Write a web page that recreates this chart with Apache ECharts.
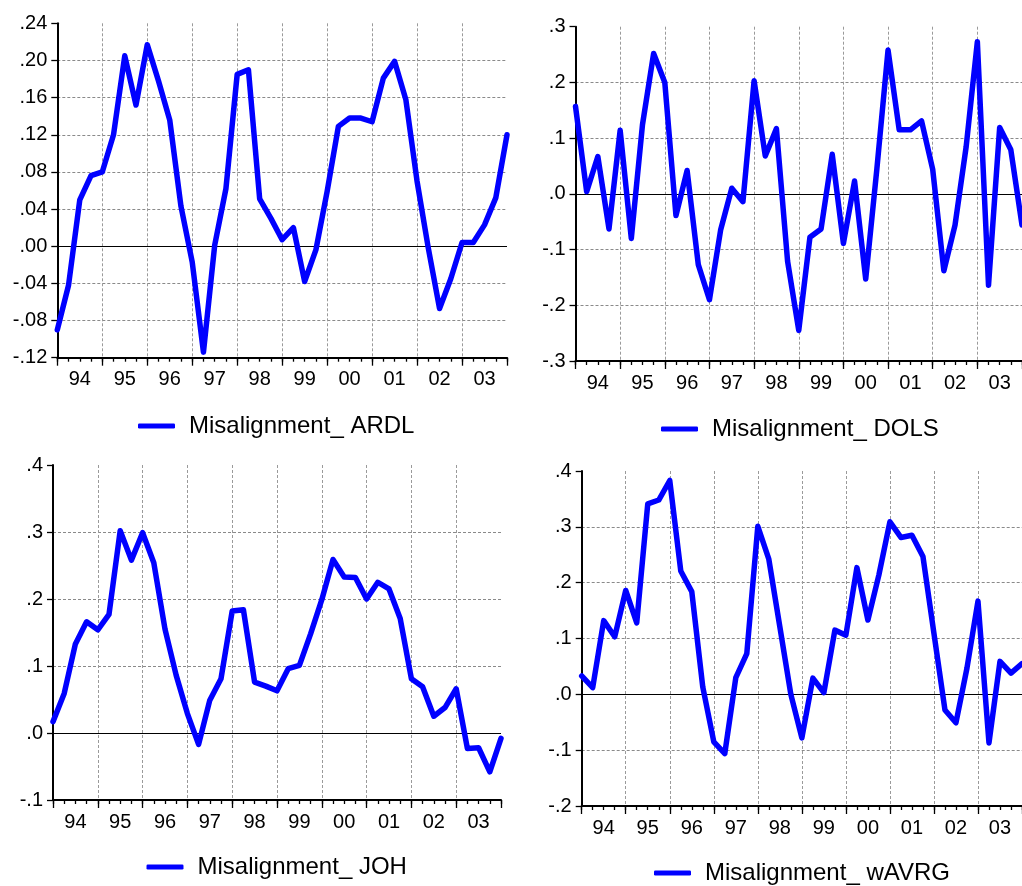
<!DOCTYPE html>
<html>
<head>
<meta charset="utf-8">
<script src="https://cdn.jsdelivr.net/npm/echarts@6/dist/echarts.min.js"></script>
<style>
html,body{margin:0;padding:0;background:#fff;}
#chart{width:1022px;height:886px;}
</style>
</head>
<body>
<div id="chart"></div>
<script>
const quarters = ['1994Q1','1994Q2','1994Q3','1994Q4','1995Q1','1995Q2','1995Q3','1995Q4',
'1996Q1','1996Q2','1996Q3','1996Q4','1997Q1','1997Q2','1997Q3','1997Q4',
'1998Q1','1998Q2','1998Q3','1998Q4','1999Q1','1999Q2','1999Q3','1999Q4',
'2000Q1','2000Q2','2000Q3','2000Q4','2001Q1','2001Q2','2001Q3','2001Q4',
'2002Q1','2002Q2','2002Q3','2002Q4','2003Q1','2003Q2','2003Q3','2003Q4','2004Q1'];
const yearLabels = ['94','95','96','97','98','99','00','01','02','03'];

const ardl = [-0.090,-0.042,0.050,0.076,0.080,0.120,0.205,0.152,0.217,0.178,0.136,0.043,-0.017,-0.114,0.001,0.062,0.185,0.190,0.051,0.030,0.007,0.020,-0.038,-0.004,0.059,0.129,0.138,0.138,0.134,0.181,0.199,0.158,0.070,-0.002,-0.067,-0.035,0.004,0.004,0.023,0.052,0.120];
const dols = [0.157,0.004,0.067,-0.063,0.114,-0.080,0.124,0.252,0.200,-0.039,0.042,-0.127,-0.190,-0.065,0.010,-0.014,0.203,0.068,0.117,-0.121,-0.245,-0.078,-0.063,0.071,-0.089,0.023,-0.153,0.045,0.258,0.115,0.115,0.131,0.044,-0.138,-0.056,0.085,0.273,-0.164,0.119,0.079,-0.056];
const joh = [0.017,0.059,0.133,0.166,0.154,0.177,0.302,0.258,0.299,0.254,0.155,0.086,0.029,-0.017,0.049,0.081,0.182,0.184,0.076,0.070,0.063,0.096,0.101,0.148,0.199,0.259,0.233,0.232,0.200,0.225,0.215,0.171,0.081,0.069,0.025,0.038,0.066,-0.023,-0.022,-0.058,-0.008];
const wavrg = [0.033,0.012,0.132,0.103,0.186,0.128,0.341,0.348,0.383,0.221,0.184,0.013,-0.085,-0.106,0.030,0.073,0.301,0.242,0.121,0.000,-0.078,0.029,0.003,0.115,0.106,0.227,0.133,0.214,0.309,0.281,0.285,0.247,0.109,-0.028,-0.051,0.047,0.167,-0.087,0.059,0.038,0.055];

const panels = [
  {name:'Misalignment_ ARDL', data:ardl, min:-0.12, max:0.24, interval:0.04, dec:2,
   grid:{left:57.3, top:23.3, width:449.7, height:334.4}, legend:{left:138, top:414}},
  {name:'Misalignment_ DOLS', data:dols, min:-0.3, max:0.3, interval:0.1, dec:1,
   grid:{left:575.5, top:26.7, width:449, height:334.3}, legend:{left:661, top:417}},
  {name:'Misalignment_ JOH', data:joh, min:-0.1, max:0.4, interval:0.1, dec:1,
   grid:{left:53, top:465, width:448, height:335}, legend:{left:146.5, top:855}},
  {name:'Misalignment_ wAVRG', data:wavrg, min:-0.2, max:0.4, interval:0.1, dec:1,
   grid:{left:581.7, top:471, width:448.5, height:335}, legend:{left:654, top:861}}
];

const FONT = '"Liberation Sans", Arial, sans-serif';
const option = {
  backgroundColor:'#fff',
  animation:false,
  grid:[], xAxis:[], yAxis:[], series:[], legend:[]
};

panels.forEach((p, i) => {
  option.grid.push(Object.assign({containLabel:false}, p.grid));
  const nTicks = Math.round((p.max - p.min) / p.interval) + 1;
  const splitColors = [];
  for (let k = 0; k < nTicks; k++) {
    const v = p.min + k * p.interval;
    splitColors.push((k === 0 || k === nTicks - 1 || Math.abs(v) < 1e-9) ? 'rgba(0,0,0,0)' : '#8a8a8a');
  }
  option.xAxis.push({
    type:'category', gridIndex:i, data:quarters, boundaryGap:false, position:'bottom',
    axisLine:{show:true, onZero:false, lineStyle:{color:'#000', width:2}},
    axisTick:{show:true, interval:0, length:4, lineStyle:{color:'#000', width:1.3}},
    axisLabel:{show:true, interval:(idx) => idx % 4 === 2,
      formatter:(v, idx) => yearLabels[Math.floor(idx / 4)],
      fontSize:20, fontFamily:FONT, color:'#000', margin:12},
    splitLine:{show:true, interval:(idx) => idx % 4 === 0 && idx > 0 && idx < quarters.length - 1,
      lineStyle:{color:'#9a9a9a', width:1, type:[3,2]}}
  });
  option.xAxis.push({
    type:'category', gridIndex:i, data:quarters, boundaryGap:false, position:'bottom',
    axisLine:{show:false, onZero:false},
    axisTick:{show:true, interval:(idx) => idx % 4 === 0, length:8, lineStyle:{color:'#000', width:1.3}},
    axisLabel:{show:false}, splitLine:{show:false}
  });
  option.yAxis.push({
    type:'value', gridIndex:i, min:p.min, max:p.max, interval:p.interval,
    axisLine:{show:true, onZero:false, lineStyle:{color:'#000', width:2}},
    axisTick:{show:true, length:6, lineStyle:{color:'#000', width:1.3}},
    axisLabel:{fontSize:20, fontFamily:FONT, color:'#000', margin:10,
      formatter:(v) => {
        const s = Math.abs(v).toFixed(p.dec).replace(/^0/, '');
        return (v < -1e-9 ? '-' : '') + s;
      }},
    splitLine:{show:true, lineStyle:{color:splitColors, width:1, type:[3,2]}}
  });
  option.series.push({
    type:'line', name:p.name, xAxisIndex:i*2, yAxisIndex:i, data:p.data,
    showSymbol:false, symbol:'none', z:3,
    lineStyle:{color:'#0000ff', width:5.5, cap:'round', join:'round'},
    itemStyle:{color:'#0000ff'},
    markLine:{silent:true, symbol:'none', z:1, label:{show:false}, animation:false,
      lineStyle:{color:'#000', width:1, type:'solid'}, data:[{yAxis:0}]}
  });
  option.legend.push({
    data:[{name:p.name, icon:'roundRect'}], left:p.legend.left, top:p.legend.top,
    padding:0, itemWidth:37, itemHeight:5, selectedMode:false,
    textStyle:{fontSize:24, fontFamily:FONT, color:'#000', padding:[0,0,0,9]}
  });
});

const chart = echarts.init(document.getElementById('chart'), null, {renderer:'canvas'});
chart.setOption(option);
</script>
</body>
</html>
